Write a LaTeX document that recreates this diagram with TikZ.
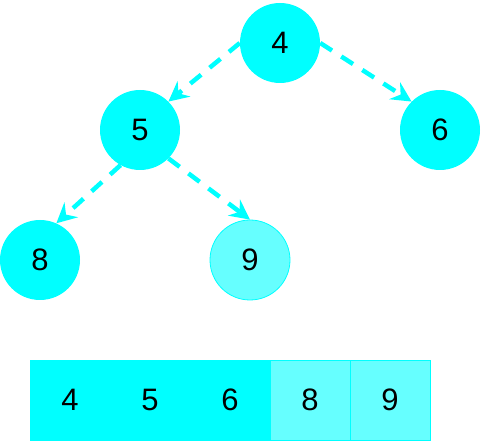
\documentclass[tikz,border=0pt]{standalone}
\usepackage{fontspec}
\setmainfont{Liberation Sans}
\usepackage{tikz}
\usetikzlibrary{arrows.meta,positioning}
\definecolor{heap}{RGB}{0,255,255}
\definecolor{heaplight}{RGB}{102,255,255}

\begin{document}
\begin{tikzpicture}[
  x=1pt, y=1pt,
  node distance=0pt,
  key/.style={circle, fill=heap, minimum size=80pt, inner sep=0pt,
              font=\fontsize{31}{35}\selectfont},
  newkey/.style={key, fill=heaplight, draw=heap, line width=0.8pt},
  cell/.style={fill=heap, draw=heap, minimum width=80pt, minimum height=80pt,
               inner sep=0pt, outer sep=0pt, line width=0.8pt,
               font=\fontsize{31}{35}\selectfont},
  newcell/.style={cell, fill=heaplight},
  arrow/.style={-{Stealth[length=20pt, width=20pt, inset=7pt]}, heap,
                line width=4.5pt, dash pattern=on 14pt off 11pt}]
  \useasboundingbox (0,0) rectangle (481,441);
  % tree
  \node[key] (k4) at (280,398) {4};
  \node[key] (k5) at (140,311) {5};
  \node[key] (k6) at (440,311) {6};
  \node[key] (k8) at (40,181) {8};
  \node[newkey] (k9) at (250,181) {9};
  \draw[arrow] (k4.west) -- (k5.north east);
  \draw[arrow] (k4.east) -- (k6.north west);
  \draw[arrow] (k5.241) -- (k8.66);
  \draw[arrow] (k5.south east) -- (k9.north);
  % array
  \node[cell] (a4) at (70,41) {4};
  \node[cell, right=of a4] (a5) {5};
  \node[cell, right=of a5] (a6) {6};
  \node[newcell, right=of a6] (a8) {8};
  \node[newcell, right=of a8] (a9) {9};
\end{tikzpicture}
\end{document}
